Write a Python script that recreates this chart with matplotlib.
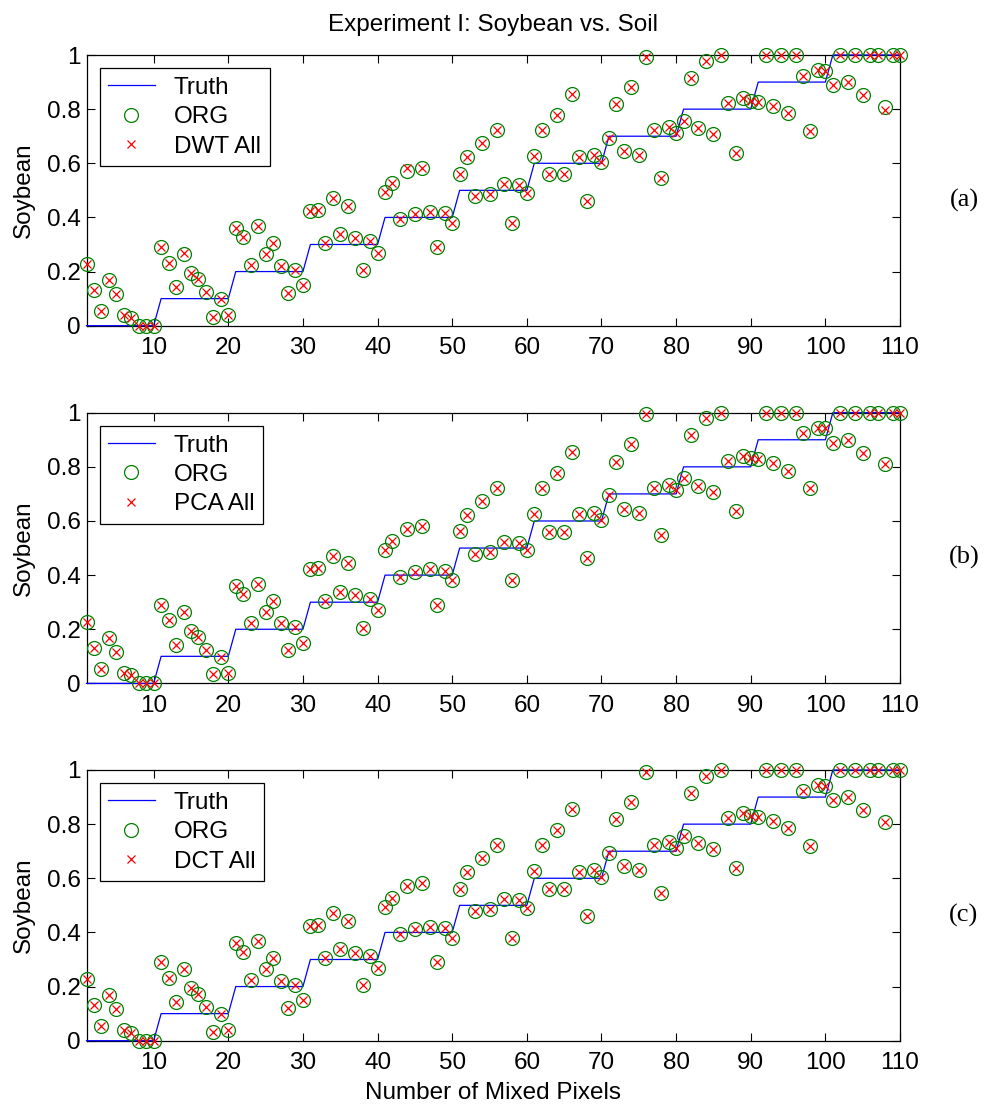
import matplotlib
matplotlib.use("Agg")
import matplotlib.pyplot as plt
import numpy as np

plt.rcParams['font.family'] = ['Liberation Sans', 'DejaVu Sans']

pixels = list(range(1, 111))
truth_levels = [0.0, 0.1, 0.2, 0.3, 0.4, 0.5, 0.6, 0.7, 0.8, 0.9, 1.0]
truth = [lvl for lvl in truth_levels for _ in range(10)]

org = [0.228, 0.132, 0.054, 0.169, 0.117, 0.038, 0.030, 0.0, 0.0, 0.0,
       0.289, 0.233, 0.142, 0.264, 0.193, 0.171, 0.124, 0.033, 0.097, 0.039,
       0.360, 0.329, 0.223, 0.369, 0.264, 0.306, 0.222, 0.122, 0.207, 0.150,
       0.424, 0.427, 0.304, 0.472, 0.339, 0.443, 0.325, 0.206, 0.312, 0.270,
       0.493, 0.526, 0.394, 0.570, 0.413, 0.582, 0.421, 0.291, 0.415, 0.381,
       0.562, 0.623, 0.478, 0.674, 0.485, 0.723, 0.523, 0.381, 0.520, 0.491,
       0.627, 0.723, 0.560, 0.778, 0.559, 0.856, 0.624, 0.462, 0.629, 0.603,
       0.695, 0.819, 0.645, 0.883, 0.631, 0.994, 0.723, 0.547, 0.733, 0.713,
       0.757, 0.916, 0.729, 0.979, 0.707, 1.000, 0.821, 0.637, 0.840, 0.831,
       0.828, 1.000, 0.813, 1.000, 0.784, 1.000, 0.924, 0.720, 0.945, 0.942,
       0.889, 1.000, 0.899, 1.000, 0.852, 1.000, 1.000, 0.809, 1.000, 1.000]

dwt_all = [0.228, 0.132, 0.054, 0.169, 0.117, 0.038, 0.030, 0.0, 0.0, 0.0,
           0.289, 0.233, 0.142, 0.270, 0.193, 0.171, 0.124, 0.033, 0.097, 0.039,
           0.360, 0.329, 0.223, 0.369, 0.264, 0.306, 0.222, 0.122, 0.207, 0.150,
           0.424, 0.427, 0.304, 0.472, 0.339, 0.443, 0.325, 0.206, 0.312, 0.270,
           0.493, 0.526, 0.394, 0.582, 0.413, 0.582, 0.421, 0.291, 0.415, 0.381,
           0.562, 0.623, 0.478, 0.674, 0.485, 0.723, 0.523, 0.381, 0.520, 0.491,
           0.627, 0.723, 0.560, 0.778, 0.559, 0.856, 0.624, 0.462, 0.629, 0.603,
           0.695, 0.819, 0.645, 0.883, 0.631, 0.994, 0.723, 0.547, 0.733, 0.713,
           0.757, 0.916, 0.729, 0.979, 0.707, 1.000, 0.821, 0.637, 0.840, 0.831,
           0.828, 1.000, 0.813, 1.000, 0.784, 1.000, 0.924, 0.720, 0.945, 0.942,
           0.889, 1.000, 0.899, 1.000, 0.852, 1.000, 1.000, 0.797, 1.000, 1.000]

pca_all = list(org)
dct_all = list(org)

method_names = ['DWT All', 'PCA All', 'DCT All']
method_values = [dwt_all, pca_all, dct_all]
panel_tags = ['(a)', '(b)', '(c)']

xticks = [10, 20, 30, 40, 50, 60, 70, 80, 90, 100, 110]
yticks = [0, 0.2, 0.4, 0.6, 0.8, 1.0]
ytick_labels = ['0', '0.2', '0.4', '0.6', '0.8', '1']

W, H = 985, 1104
fig = plt.figure(figsize=(W / 100, H / 100), dpi=100)

left_px, right_px = 86.5, 900
panel_tops = [55, 412.7, 770]
panel_h = 270.7

FS = 17.5
for i, (name, vals, tag) in enumerate(zip(method_names, method_values, panel_tags)):
    top = panel_tops[i]
    ax = fig.add_axes([left_px / W, 1 - (top + panel_h) / H,
                       (right_px - left_px) / W, panel_h / H])
    ax.plot(pixels, truth, color='#0000ff', lw=0.9, label='Truth',
            clip_on=False, zorder=3)
    ax.plot(pixels, org, ls='none', marker='o', ms=10, mfc='none',
            mec='#008000', mew=0.9, label='ORG', clip_on=False, zorder=4)
    ax.plot(pixels, vals, ls='none', marker='x', ms=5.5, color='#ff0000',
            mew=0.9, label=name, clip_on=False, zorder=5)
    ax.set_xlim(1, 110)
    ax.set_ylim(0, 1)
    ax.set_xticks(xticks)
    ax.set_yticks(yticks)
    ax.set_yticklabels(ytick_labels)
    ax.tick_params(direction='in', length=6, width=0.8, top=True, right=True,
                   labelsize=FS, pad=4)
    ax.tick_params(axis='x', pad=8)
    for s in ax.spines.values():
        s.set_linewidth(0.9)
    ax.set_ylabel('Soybean', fontsize=FS, labelpad=9)
    leg = ax.legend(loc='upper left', fontsize=FS, frameon=True, fancybox=False,
                    framealpha=1, edgecolor='black', handlelength=1.9,
                    borderaxespad=0.55, labelspacing=0.3, borderpad=0.35,
                    handletextpad=0.8)
    leg.get_frame().set_linewidth(0.9)
    leg.set_zorder(10)
    fig.text(964 / W, 1 - (top + 145) / H, tag, fontsize=19,
             family='Liberation Serif', ha='center', va='center')
    if i == 0:
        ax.set_title('Experiment I: Soybean vs. Soil', fontsize=FS, pad=17)
    if i == 2:
        ax.set_xlabel('Number of Mixed Pixels', fontsize=FS, labelpad=6)

fig.savefig('out.png', dpi=100)
